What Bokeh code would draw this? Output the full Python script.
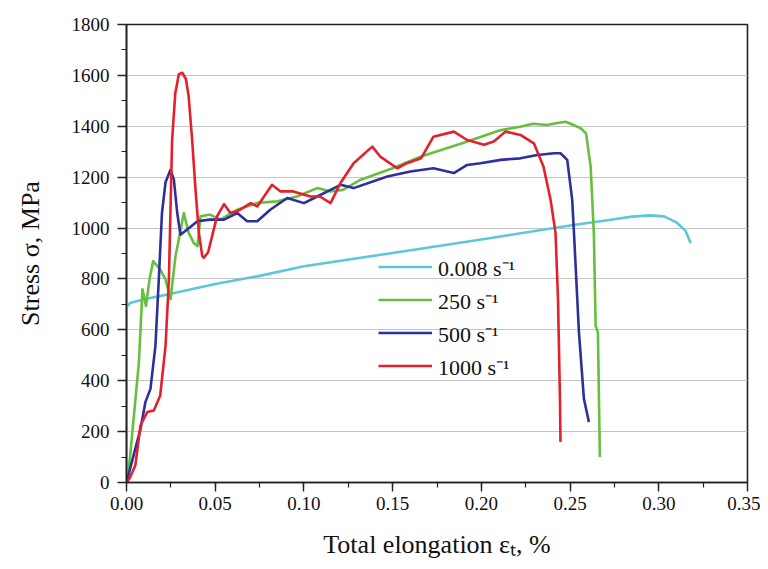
from bokeh.plotting import figure
from bokeh.models import Range1d, FixedTicker, PrintfTickFormatter, Legend
from bokeh.embed import file_html
from bokeh.resources import INLINE

# ---- data ----
x_0008 = [0, 0, 0.002, 0.01, 0.025, 0.05, 0.075, 0.1, 0.15, 0.2, 0.25, 0.27, 0.285, 0.295, 0.303, 0.31, 0.315, 0.318]
y_0008 = [0, 690, 705, 720, 742, 780, 812, 850, 902, 955, 1010, 1030, 1045, 1050, 1046, 1022, 990, 940]

x_250 = [0, 0.002, 0.004, 0.007, 0.009, 0.011, 0.013, 0.015, 0.019, 0.022, 0.0248, 0.0276, 0.0295, 0.0323,
         0.035, 0.038, 0.04, 0.0417, 0.047, 0.053, 0.0624, 0.0737, 0.085, 0.096, 0.1075, 0.115, 0.122, 0.132,
         0.15, 0.166, 0.19, 0.211, 0.217, 0.222, 0.229, 0.237, 0.242, 0.2475, 0.252, 0.256, 0.259, 0.2616,
         0.2634, 0.2644, 0.2657, 0.2668]
y_250 = [0, 100, 250, 473, 759, 694, 800, 870, 837, 798, 720, 889, 955, 1059,
         982, 940, 929, 1046, 1053, 1033, 1072, 1099, 1105, 1124, 1157, 1144, 1150, 1190,
         1235, 1281, 1335, 1385, 1392, 1398, 1410, 1405, 1412, 1418, 1405, 1392, 1372, 1242,
         981, 616, 590, 100]

x_500 = [0, 0.003, 0.0079, 0.0107, 0.0135, 0.0163, 0.0182, 0.02, 0.022, 0.0248, 0.0267, 0.0286, 0.0304, 0.0342,
         0.04, 0.047, 0.055, 0.0624, 0.068, 0.0737, 0.081, 0.0906, 0.1, 0.1075, 0.115, 0.1206, 0.128, 0.147,
         0.16, 0.173, 0.1845, 0.192, 0.1995, 0.211, 0.222, 0.2315, 0.241, 0.2446, 0.2484, 0.2512, 0.2522,
         0.255, 0.2578, 0.2606]
y_500 = [0, 80, 211, 317, 368, 537, 798, 1060, 1180, 1229, 1190, 1059, 974, 994,
         1027, 1033, 1033, 1059, 1027, 1027, 1072, 1118, 1098, 1124, 1150, 1170, 1157, 1203,
         1222, 1235, 1216, 1248, 1255, 1268, 1274, 1287, 1294, 1294, 1268, 1111, 981,
         590, 329, 238]

x_1000 = [0, 0.002, 0.005, 0.0079, 0.0117, 0.0154, 0.019, 0.022, 0.0239, 0.0257, 0.0275, 0.0295, 0.0315, 0.0335,
          0.035, 0.037, 0.0389, 0.0408, 0.0427, 0.0436, 0.046, 0.051, 0.055, 0.0586, 0.0624, 0.07, 0.0737, 0.082,
          0.0868, 0.094, 0.1037, 0.109, 0.115, 0.1206, 0.128, 0.1385, 0.143, 0.1526, 0.158, 0.166, 0.173, 0.1845,
          0.192, 0.2015, 0.207, 0.2136, 0.222, 0.2296, 0.235, 0.239, 0.2418, 0.2432, 0.2443, 0.2446]
y_1000 = [0, 20, 68, 224, 277, 283, 342, 537, 798, 1346, 1530, 1605, 1610, 1585,
          1520, 1346, 1150, 981, 890, 883, 905, 1046, 1094, 1059, 1066, 1098, 1085, 1170,
          1144, 1144, 1124, 1124, 1098, 1177, 1255, 1320, 1281, 1235, 1255, 1274, 1359, 1379,
          1346, 1327, 1340, 1379, 1366, 1333, 1242, 1111, 981, 720, 329, 159]

labels = ["0.008 s\u207b\u00b9", "250 s\u207b\u00b9", "500 s\u207b\u00b9", "1000 s\u207b\u00b9"]
colors = ["#5ec6d6", "#66bf3f", "#2d2f9c", "#e3202c"]

x_ticks = [0.0, 0.05, 0.10, 0.15, 0.20, 0.25, 0.30, 0.35]
x_minor = [i * 0.025 for i in range(15)]
y_ticks = list(range(0, 1801, 200))
y_minor = list(range(0, 1801, 100))

FONT = "Liberation Serif"

p = figure(width=760, height=561, output_backend="svg", toolbar_location=None,
           x_range=Range1d(0, 0.35), y_range=Range1d(0, 1800),
           min_border_left=126, min_border_right=13, min_border_top=24, min_border_bottom=77)
p.background_fill_color = "white"
p.border_fill_color = "white"
p.outline_line_color = "#222222"
p.outline_line_width = 1.6
p.outline_line_alpha = 1

series = [(x_0008, y_0008), (x_250, y_250), (x_500, y_500), (x_1000, y_1000)]
renderers = []
for (xs, ys), c in zip(series, colors):
    r = p.line(xs, ys, line_color=c, line_width=2.6, line_join="round")
    renderers.append(r)

legend = Legend(items=[(lab, [r]) for lab, r in zip(labels, renderers)],
                location=(252, 100), orientation="vertical")
legend.background_fill_alpha = 0
legend.border_line_alpha = 0
legend.padding = 0
legend.margin = 0
legend.spacing = 0
legend.glyph_width = 54
legend.glyph_height = 33
legend.label_height = 33
legend.label_standoff = 6
legend.label_text_font = FONT
legend.label_text_font_size = "22px"
legend.label_text_color = "#111111"
p.add_layout(legend, "center")

p.xgrid.visible = False
p.ygrid.grid_line_color = "#c4c4c4"
p.ygrid.grid_line_width = 1.2
p.ygrid.ticker = FixedTicker(ticks=y_ticks)

p.xaxis.ticker = FixedTicker(ticks=x_ticks, minor_ticks=x_minor)
p.yaxis.ticker = FixedTicker(ticks=y_ticks, minor_ticks=y_minor)
p.xaxis.formatter = PrintfTickFormatter(format="%.2f")

for ax in (p.xaxis[0], p.yaxis[0]):
    ax.axis_line_color = "#222222"
    ax.axis_line_width = 1.6
    ax.major_tick_line_color = "#222222"
    ax.minor_tick_line_color = "#222222"
    ax.major_tick_line_width = 1.4
    ax.minor_tick_line_width = 1.2
    ax.major_tick_in = 0
    ax.major_tick_out = 9
    ax.minor_tick_in = 0
    ax.minor_tick_out = 5
    ax.major_label_text_font = FONT
    ax.major_label_text_font_size = "19px"
    ax.major_label_text_color = "#111111"
    ax.axis_label_text_font = FONT
    ax.axis_label_text_font_size = "26px"
    ax.axis_label_text_font_style = "normal"
    ax.axis_label_text_color = "#111111"

p.xaxis.axis_label = "Total elongation \u03b5\u209c, %"
p.yaxis.axis_label = "Stress \u03c3, MPa"
p.xaxis.major_label_standoff = 5
p.yaxis.major_label_standoff = 8
p.xaxis.axis_label_standoff = 17
p.yaxis.axis_label_standoff = 24

open("out.html", "w").write(file_html(p, INLINE))
